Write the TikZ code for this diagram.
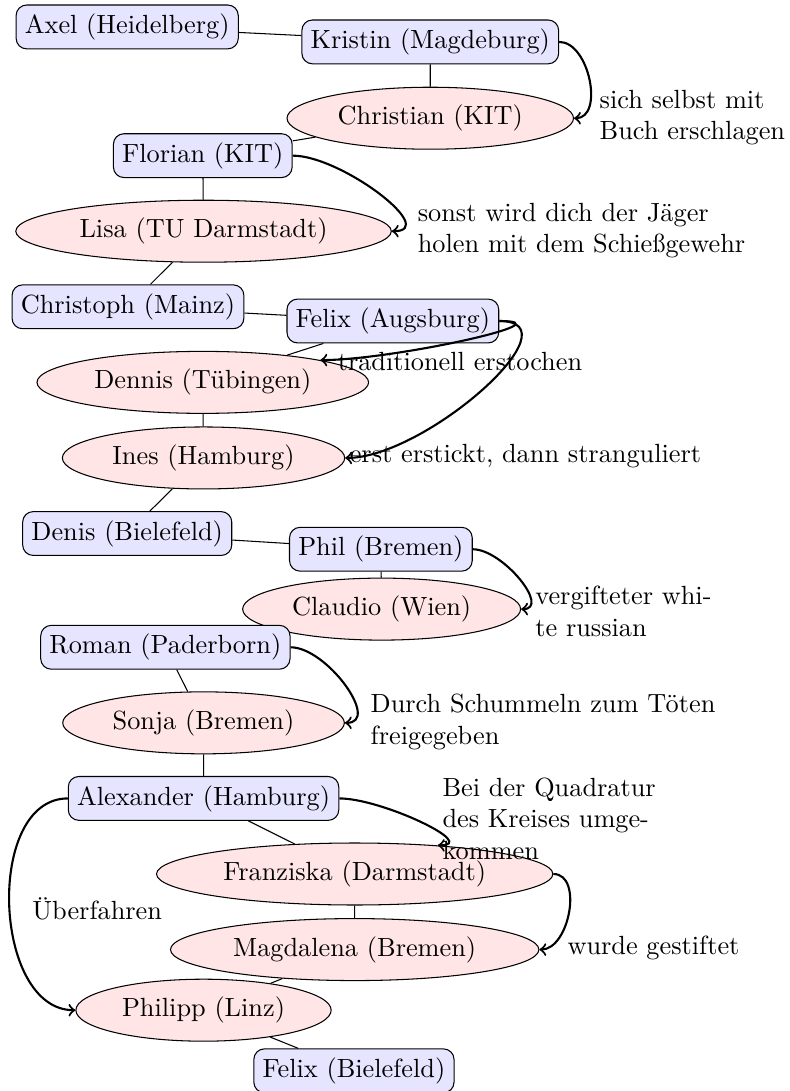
\documentclass[tikz,border=0pt]{standalone}
\usepackage{fontspec}
\usepackage{tikz}
\usetikzlibrary{shapes.geometric}

\tikzset{
  person/.style={draw, rounded corners, fill=blue!10},
  victim/.style={draw, ellipse, fill=red!10},
  link/.style={thin},
  kill/.style={->, thick},
  note/.style={anchor=west, align=left}
}

\begin{document}
\begin{tikzpicture}

% Frame
\useasboundingbox (0,0) rectangle (10.557,-14.580);

% === PEOPLE ===
\node[person] (axel)      at (1.70,-0.36)  {Axel (Heidelberg)};
\node[person] (kristin)   at (5.75,-0.56)  {Kristin (Magdeburg)};
\node[victim] (christian) at (5.75,-1.58)  {Christian (KIT)};
\node[person] (florian)   at (2.71,-2.08)  {Florian (KIT)};
\node[victim] (lisa)      at (2.72,-3.09)  {Lisa (TU Darmstadt)};
\node[person] (christoph) at (1.71,-4.10)  {Christoph (Mainz)};
\node[person] (felixa)    at (5.25,-4.29)  {Felix (Augsburg)};
\node[victim] (dennis)    at (2.71,-5.11)  {Dennis (Tübingen)};
\node[victim] (ines)      at (2.72,-6.12)  {Ines (Hamburg)};
\node[person] (denis)     at (1.70,-7.13)  {Denis (Bielefeld)};
\node[person] (phil)      at (5.09,-7.34)  {Phil (Bremen)};
\node[victim] (claudio)   at (5.10,-8.14)  {Claudio (Wien)};
\node[person] (roman)     at (2.21,-8.65)  {Roman (Paderborn)};
\node[victim] (sonja)     at (2.72,-9.66)  {Sonja (Bremen)};
\node[person] (alexander) at (2.72,-10.67) {Alexander (Hamburg)};
\node[victim] (franziska) at (4.74,-11.68) {Franziska (Darmstadt)};
\node[victim] (magdalena) at (4.74,-12.69) {Magdalena (Bremen)};
\node[victim] (philipp)   at (2.72,-13.50) {Philipp (Linz)};
\node[person] (felixb)    at (4.73,-14.31) {Felix (Bielefeld)};

% === CHAIN ===
\draw[link] (axel) -- (kristin) -- (christian) -- (florian) -- (lisa) -- (christoph)
  -- (felixa) -- (dennis) -- (ines) -- (denis) -- (phil) -- (claudio);
\draw[link] (roman) -- (sonja) -- (alexander) -- (franziska) -- (magdalena)
  -- (philipp) -- (felixb);

% === KILLS ===
\draw[kill] (kristin.east) to[out=0, in=0] (christian.east);
\draw[kill] (florian.east) to[out=0, in=0] (lisa.east);
\draw[kill] (felixa.east) to[out=0, in=0] (dennis.north east);
\draw[kill] (felixa.east) to[out=0, in=0] (ines.east);
\draw[kill] (phil.east) to[out=0, in=0] (claudio.east);
\draw[kill] (roman.east) to[out=0, in=0] (sonja.east);
\draw[kill] (alexander.east) to[out=0, in=0] (franziska.19);
\draw[kill] (franziska.east) to[out=0, in=0] (magdalena.east);
\draw[kill] (alexander.west) to[out=180, in=180] (philipp.west);

% === HOW ===
\node[note] (n1) at (7.89,-1.57)  {sich selbst mit\\Buch erschlagen};
\node[note] (n2) at (5.46,-3.08)  {sonst wird dich der Jäger\\holen mit dem Schießgewehr};
\node[note] (n3) at (4.39,-4.83)  {traditionell erstochen};
\node[note] (n4) at (4.55,-6.10)  {erst erstickt, dann stranguliert};
\node[note] (n5) at (7.03,-8.17)  {vergifteter whi-\\te russian};
\node[note] (n6) at (4.83,-9.65)  {Durch Schummeln zum Töten\\freigegeben};
\node[note] (n7) at (5.79,-10.94) {Bei der Quadratur\\des Kreises umge-\\kommen};
\node[note] (n8) at (7.46,-12.67) {wurde gestiftet};
\node[note] (n9) at (0.31,-12.14) {Überfahren};

\end{tikzpicture}
\end{document}
